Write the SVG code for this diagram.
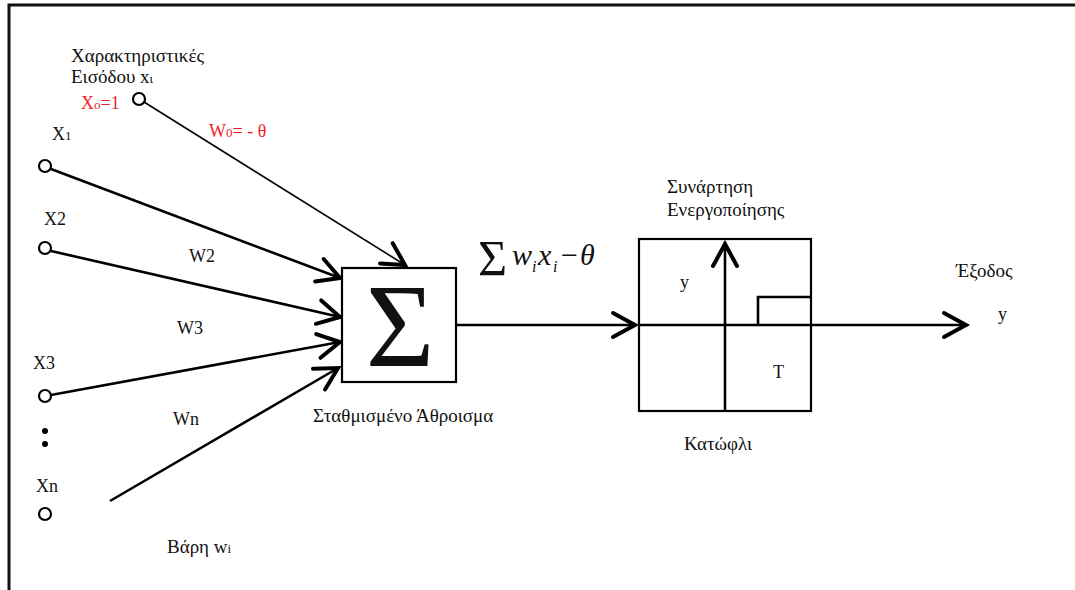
<svg xmlns="http://www.w3.org/2000/svg" width="1075" height="590" viewBox="0 0 1075 590">
<defs>
<marker id="chev" markerUnits="userSpaceOnUse" markerWidth="40" markerHeight="40" refX="0" refY="0" viewBox="-30 -20 40 40" orient="auto" overflow="visible">
<path d="M-22,-12 L0,0 L-22,12" fill="none" stroke="#000" stroke-width="4" stroke-linecap="round" stroke-linejoin="miter"/>
</marker>
<style>
text{font-family:"Liberation Serif","Times New Roman",serif;fill:#111;font-size:19px}
.lat{font-size:18px}
.red{fill:#f01e26}
.sub{font-size:13px}
.in{fill:#fff;stroke:#000;stroke-width:2.2}
.thick{stroke:#000;stroke-width:2.6;fill:none}
.thin{stroke:#000;stroke-width:1.6;fill:none}
.box{fill:#fff;stroke:#000;stroke-width:2.2}
.math{font-style:italic;font-size:30px}
.msub{font-style:italic;font-size:16px}
</style>
</defs>
<rect width="1075" height="590" fill="#fff"/>
<!-- frame -->
<path d="M9,590 V5 H1075" fill="none" stroke="#111" stroke-width="3"/>

<g id="connectors">
<line class="thin" x1="144" y1="102" x2="405" y2="265" marker-end="url(#chev)"/>
<line class="thick" x1="51" y1="169" x2="340" y2="278" marker-end="url(#chev)"/>
<line class="thick" x1="51" y1="251" x2="340" y2="317" marker-end="url(#chev)"/>
<line class="thick" x1="51" y1="395" x2="340" y2="342" marker-end="url(#chev)"/>
<line class="thick" x1="110" y1="501" x2="338" y2="368" marker-end="url(#chev)"/>
<line class="thick" x1="456" y1="325" x2="635" y2="325" marker-end="url(#chev)"/>
<line class="thick" x1="811" y1="325" x2="966" y2="325" marker-end="url(#chev)"/>
</g>

<g id="input-x0">
<circle class="in" cx="139" cy="99" r="6"/>
<text x="71" y="62">Χαρακτηριστικές</text>
<text x="71" y="83">Εισόδου x<tspan class="sub">ι</tspan></text>
<text x="81" y="109" class="red lat">X<tspan class="sub red">o</tspan>=1</text>
<text x="209" y="137" class="red lat">W<tspan class="sub red">0</tspan>= - θ</text>
</g>
<g id="input-x1">
<circle class="in" cx="45" cy="166" r="6"/>
<text x="52" y="140" class="lat">X<tspan class="sub">1</tspan></text>
</g>
<g id="input-x2">
<circle class="in" cx="45" cy="248" r="6"/>
<text x="44" y="225" class="lat">X2</text>
<text x="189" y="262" class="lat">W2</text>
</g>
<g id="input-x3">
<circle class="in" cx="45" cy="396" r="6"/>
<text x="33" y="369" class="lat">X3</text>
<text x="177" y="334" class="lat">W3</text>
</g>
<g id="ellipsis">
<circle cx="45" cy="431" r="3" fill="#000"/>
<circle cx="45" cy="444" r="3" fill="#000"/>
</g>
<g id="input-xn">
<circle class="in" cx="45" cy="514" r="6"/>
<text x="36" y="492" class="lat">Xn</text>
<text x="173" y="425" class="lat">Wn</text>
<text x="167" y="553">Βάρη w<tspan class="sub">i</tspan></text>
</g>

<g id="sum">
<rect class="box" x="342" y="268" width="114" height="114"/>
<text x="400" y="366" text-anchor="middle" style="font-size:118px">Σ</text>
<text x="313" y="422">Σταθμισμένο Άθροισμα</text>
<text x="478" y="275" style="font-size:50px">Σ</text>
<text x="512" y="265" class="math">w</text>
<text x="532" y="272" class="msub">i</text>
<text x="538" y="265" class="math">x</text>
<text x="553" y="272" class="msub">i</text>
<text x="561" y="265" style="font-size:30px">−</text>
<text x="580" y="265" class="math">θ</text>
</g>

<g id="activation">
<rect class="box" x="639" y="239" width="172" height="172" stroke-width="2.6"/>
<line class="thick" x1="725" y1="411" x2="725" y2="244" marker-end="url(#chev)"/>
<line class="thick" x1="639" y1="325" x2="811" y2="325"/>
<path class="thick" d="M758,325 V297 H811"/>
<text x="667" y="193">Συνάρτηση</text>
<text x="667" y="216">Ενεργοποίησης</text>
<text x="680" y="288" class="lat">y</text>
<text x="773" y="378" class="lat">T</text>
<text x="684" y="450">Κατώφλι</text>
</g>

<g id="output">
<text x="956" y="277">Έξοδος</text>
<text x="998" y="320" class="lat">y</text>
</g>
</svg>
